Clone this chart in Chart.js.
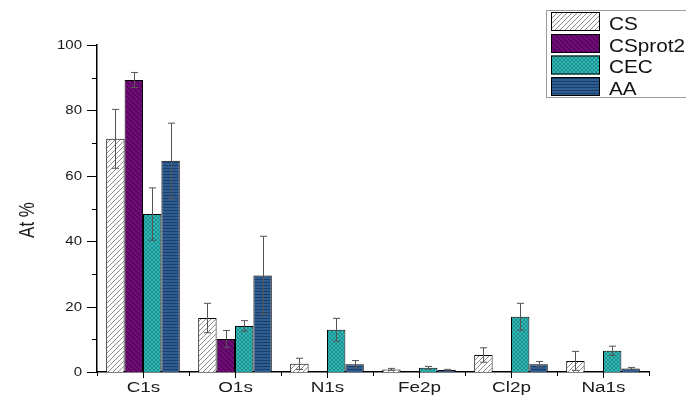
<!DOCTYPE html>
<html>
<head>
<meta charset="utf-8">
<script src="https://cdn.jsdelivr.net/npm/chart.js@4"></script>
<style>
  body { margin: 0; background: #fff; }
  canvas { display: block; }
</style>
</head>
<body>
<canvas id="myChart" width="686" height="395"></canvas>
<script>
const elements = ["C1s", "O1s", "N1s", "Fe2p", "Cl2p", "Na1s"];

const csValues = [71.3, 16.5, 2.5, 0.8, 5.2, 3.4];
const csErrors = [9.0, 4.5, 1.7, 0.3, 2.2, 2.9];

const csprotValues = [89.3, 10.1, null, null, null, null];
const csprotErrors = [2.3, 2.6, 0, 0, 0, 0];

const cecValues = [48.3, 14.1, 12.9, 1.3, 16.9, 6.5];
const cecErrors = [8.0, 1.6, 3.5, 0.4, 4.1, 1.4];

const aaValues = [64.6, 29.5, 2.4, 0.6, 2.4, 1.1];
const aaErrors = [11.5, 12.0, 1.1, 0.2, 0.8, 0.3];

const yLabelStep = 20;

// small tiles used as bar fills
function makePattern(size, bg, drawLines) {
    const c = document.createElement("canvas");
    c.width = size;
    c.height = size;
    const g = c.getContext("2d");
    g.fillStyle = bg;
    g.fillRect(0, 0, size, size);
    drawLines(g, size);
    return document.createElement("canvas").getContext("2d").createPattern(c, "repeat");
}

function diagonal(color, width, forward) {
    return (g, s) => {
        g.strokeStyle = color;
        g.lineWidth = width;
        g.beginPath();
        if (forward) {
            g.moveTo(0, s); g.lineTo(s, 0);
            g.moveTo(-1, 1); g.lineTo(1, -1);
            g.moveTo(s - 1, s + 1); g.lineTo(s + 1, s - 1);
        } else {
            g.moveTo(0, 0); g.lineTo(s, s);
            g.moveTo(-1, s - 1); g.lineTo(1, s + 1);
            g.moveTo(s - 1, -1); g.lineTo(s + 1, 1);
        }
        g.stroke();
    };
}

const csFill = makePattern(5, "#ffffff", diagonal("#808080", 0.9, true));
const csprotFill = makePattern(5, "#6e0b74", diagonal("#45004b", 1, false));
const cecFill = makePattern(4, "#30b9b7", (g, s) => {
    diagonal("#1b8584", 0.8, true)(g, s);
    diagonal("#1b8584", 0.8, false)(g, s);
});
const aaFill = makePattern(3, "#2e5d92", (g, s) => {
    g.fillStyle = "#1d3e6a";
    g.fillRect(0, 0, s, 1);
});

const seriesErrors = [csErrors, csprotErrors, cecErrors, aaErrors];

function stretchText(ctx, text, x, y, align, sx) {
    ctx.save();
    ctx.translate(x, y);
    ctx.scale(sx, 1);
    ctx.textAlign = align;
    ctx.fillText(text, 0, 0);
    ctx.restore();
}

const errorBars = {
    id: "errorBars",
    afterDatasetsDraw(chart) {
        const ctx = chart.ctx;
        const y = chart.scales.y;
        ctx.save();
        ctx.strokeStyle = "#555";
        ctx.lineWidth = 1;
        chart.data.datasets.forEach((ds, di) => {
            const meta = chart.getDatasetMeta(di);
            meta.data.forEach((bar, i) => {
                const v = ds.data[i];
                const e = seriesErrors[di][i];
                if (v == null || !e) return;
                const x = Math.round(bar.x) + 0.5;
                const top = y.getPixelForValue(v + e);
                const bot = y.getPixelForValue(Math.max(v - e, 0));
                ctx.beginPath();
                ctx.moveTo(x, top); ctx.lineTo(x, bot);
                ctx.moveTo(x - 3.5, top); ctx.lineTo(x + 3.5, top);
                ctx.moveTo(x - 3.5, bot); ctx.lineTo(x + 3.5, bot);
                ctx.stroke();
            });
        });
        ctx.restore();
    }
};

const axesAndLegend = {
    id: "axesAndLegend",
    afterDraw(chart) {
        const ctx = chart.ctx;
        const xs = chart.scales.x;
        const ys = chart.scales.y;
        const area = chart.chartArea;
        ctx.save();
        ctx.strokeStyle = "#000";
        ctx.fillStyle = "#1a1a1a";
        ctx.lineWidth = 1;

        // y ticks, labelled every 20
        ctx.font = "12px 'Liberation Sans', Arial";
        ctx.textBaseline = "middle";
        ys.ticks.forEach((t) => {
            const py = Math.round(ys.getPixelForValue(t.value)) + 0.5;
            const major = t.value % yLabelStep === 0;
            ctx.beginPath();
            ctx.moveTo(area.left - (major ? 10 : 5), py);
            ctx.lineTo(area.left, py);
            ctx.stroke();
            if (major) stretchText(ctx, String(t.value), area.left - 15, py, "right", 1.25);
        });

        // x ticks at centres and between groups
        const step = (area.right - area.left) / elements.length;
        for (let i = 0; i <= elements.length; i++) {
            const bx = Math.round(area.left + i * step) + 0.5;
            ctx.beginPath();
            ctx.moveTo(bx, area.bottom); ctx.lineTo(bx, area.bottom + 4);
            ctx.stroke();
        }
        ctx.font = "14px 'Liberation Sans', Arial";
        ctx.textBaseline = "alphabetic";
        elements.forEach((name, i) => {
            const cx = Math.round(xs.getPixelForValue(i)) + 0.5;
            ctx.beginPath();
            ctx.moveTo(cx, area.bottom); ctx.lineTo(cx, area.bottom + 6);
            ctx.stroke();
            stretchText(ctx, name, cx, 392, "center", 1.35);
        });

        // y axis title
        ctx.save();
        ctx.translate(28, 220);
        ctx.scale(1.25, 1);
        ctx.rotate(-Math.PI / 2);
        ctx.font = "17px 'Liberation Sans', Arial";
        ctx.textAlign = "center";
        ctx.textBaseline = "middle";
        ctx.fillText("At %", 0, 0);
        ctx.restore();

        // legend box
        ctx.strokeStyle = "#9a9a9a";
        ctx.strokeRect(546.5, 10.5, 160, 87);
        ctx.font = "18px 'Liberation Sans', Arial";
        ctx.textBaseline = "alphabetic";
        const rows = [12, 34, 55.5, 77];
        chart.data.datasets.forEach((ds, di) => {
            const top = rows[di];
            ctx.fillStyle = ds.backgroundColor;
            ctx.fillRect(551, top, 49, 19);
            ctx.strokeStyle = "#000";
            ctx.strokeRect(551.5, top + 0.5, 48, 18);
            ctx.fillStyle = "#111";
            stretchText(ctx, ds.label, 609, top + 17.5, "left", 1.15);
        });
        ctx.restore();
    }
};

const ctx = document.getElementById("myChart");

new Chart(ctx, {
    type: "bar",
    data: {
        labels: elements,
        datasets: [
            { label: "CS", data: csValues, backgroundColor: csFill },
            { label: "CSprot2", data: csprotValues, backgroundColor: csprotFill },
            { label: "CEC", data: cecValues, backgroundColor: cecFill },
            { label: "AA", data: aaValues, backgroundColor: aaFill },
        ],
    },
    options: {
        responsive: false,
        animation: false,
        events: [],
        layout: { padding: { top: 45, right: 37, left: 0, bottom: 0 } },
        datasets: {
            bar: {
                borderColor: "#000",
                borderWidth: 1,
                categoryPercentage: 0.8,
                barPercentage: 1,
            },
        },
        scales: {
            x: {
                grid: { display: false },
                border: { color: "#000", width: 1.5 },
                ticks: { display: false },
                afterFit: (s) => { s.height = 23; },
            },
            y: {
                min: 0,
                max: 100,
                ticks: { display: false, stepSize: 10 },
                grid: { display: false },
                border: { color: "#000", width: 1.5 },
                afterFit: (s) => { s.width = 97; },
            },
        },
        plugins: {
            legend: { display: false },
            tooltip: { enabled: false },
        },
    },
    plugins: [errorBars, axesAndLegend],
});
</script>
</body>
</html>
